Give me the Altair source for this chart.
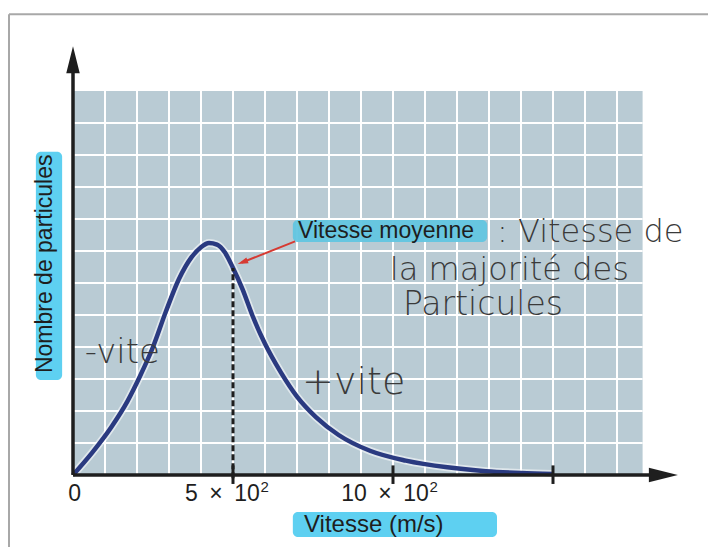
import altair as alt
import pandas as pd

# ---- data ----
speed = [0, 60, 120, 170, 210, 250, 290, 330, 370, 400, 425, 450, 475, 500, 530, 560,
         600, 650, 700, 760, 830, 930, 1040, 1170, 1290, 1400, 1500]
count = [0, 0.7, 1.5, 2.3, 3.1, 4.0, 5.1, 6.1, 6.8, 7.12, 7.25, 7.2, 6.95, 6.47, 5.8, 5.0,
         4.1, 3.2, 2.45, 1.8, 1.25, 0.75, 0.45, 0.24, 0.12, 0.06, 0.03]

tick_values = [0, 500, 1000, 1500]
tick_base = ["0", "5\u2002×\u200210", "10\u2002×\u200210"]
tick_base_x = [5, 584, 1112]
tick_base_align = ["center", "right", "right"]
tick_sup = ["2", "2"]
tick_sup_x = [586, 1114]
mean_speed = 500
mean_count = 6.47

x_title = "Vitesse (m/s)"
y_title = "Nombre de particules"
annot_label = "Vitesse moyenne"
hand_lines = [": Vitesse de", "la majorité des", "Particules"]
hand_x = [1325, 990, 1031]
hand_y = [7.6, 6.4, 5.3]
hand_size = [32, 32, 33]
slow_label, fast_label = "-vite", "+vite"

grid_x_max = 1780
grid_y_max = 12
X_DOM = [0, 1900]
Y_DOM = [0, 13.5]

# ---- helpers ----
xs = alt.Scale(domain=X_DOM, nice=False, zero=False)
ys = alt.Scale(domain=Y_DOM, nice=False, zero=False)


def X(f):
    return alt.X(f, type="quantitative", scale=xs, axis=None)


def Y(f):
    return alt.Y(f, type="quantitative", scale=ys, axis=None)


def df(**kw):
    return pd.DataFrame(kw)


INK = "#1e1e1e"
HAND = "#3a3a3a"
CYAN = "#55cdf0"

# outer scan frame
frame = alt.Chart(df(x=[-200, -200], x2=[2010, -200], y=[14.4, 14.4], y2=[14.4, -2.6])).mark_rule(
    color="#a8a8a8", strokeWidth=2).encode(x=X("x"), x2="x2", y=Y("y"), y2="y2")

# grid background
bg = alt.Chart(df(x=[0], x2=[grid_x_max], y=[0], y2=[grid_y_max])).mark_rect(
    color="#b9cbd4").encode(x=X("x"), x2="x2", y=Y("y"), y2="y2")

vx = list(range(100, 1800, 100))
vlines = alt.Chart(df(x=vx, y=[0] * len(vx), y2=[grid_y_max] * len(vx))).mark_rule(
    color="white", strokeWidth=2).encode(x=X("x"), y=Y("y"), y2="y2")
hy = list(range(1, grid_y_max))
hlines = alt.Chart(df(y=hy, x=[0] * len(hy), x2=[grid_x_max] * len(hy))).mark_rule(
    color="white", strokeWidth=2).encode(y=Y("y"), x=X("x"), x2="x2")

# highlights
hl = alt.Chart(df(x=[687, -116, 687], x2=[1325, -34, 1294],
                  y=[-1.16, 2.97, 7.28], y2=[-1.94, 10.1, 7.97],
                  c=[CYAN, CYAN, "#62c5e0"])).mark_rect(cornerRadius=5, opacity=0.95).encode(
    x=X("x"), x2="x2", y=Y("y"), y2="y2", color=alt.Color("c:N", scale=None))

# curve
cdf = df(v=speed, n=count)
halo = alt.Chart(cdf).mark_line(color="white", strokeWidth=8, opacity=0.55,
                                interpolate="monotone").encode(x=X("v"), y=Y("n"))
curve = alt.Chart(cdf).mark_line(color="#2a3a80", strokeWidth=4.5,
                                 interpolate="monotone").encode(x=X("v"), y=Y("n"))

dashed = alt.Chart(df(x=[mean_speed], y=[-0.1], y2=[mean_count])).mark_rule(
    color=INK, strokeWidth=3, strokeDash=[6, 3]).encode(x=X("x"), y=Y("y"), y2="y2")

# axes
axes = alt.Chart(df(x=[0, 0], x2=[1800, 0], y=[0, 0], y2=[0, 12.56])).mark_rule(
    color=INK, strokeWidth=3.5).encode(x=X("x"), x2="x2", y=Y("y"), y2="y2")
xarrow = alt.Chart(df(x=[1845], y=[0])).mark_point(
    shape="M-1,-0.5L1,0L-1,0.5Z", size=841, filled=True, opacity=1, color=INK).encode(x=X("x"), y=Y("y"))
yarrow = alt.Chart(df(x=[0], y=[12.98])).mark_point(
    shape="M-0.5,1L0,-1L0.5,1Z", size=729, filled=True, opacity=1, color=INK).encode(x=X("x"), y=Y("y"))

tdf = df(t=tick_values[1:], y=[-0.28] * 3, y2=[0.3] * 3)
ticks = alt.Chart(tdf).mark_rule(color=INK, strokeWidth=3).encode(x=X("t"), y=Y("y"), y2="y2")

ldf = df(t=tick_base_x, lab=tick_base, a=tick_base_align, y=[-0.6] * 3)
tl_parts = []
for align in ["center", "right"]:
    tl_parts.append(alt.Chart(ldf[ldf.a == align]).mark_text(
        font="Liberation Sans", fontSize=23, color=INK, baseline="middle", align=align).encode(
        x=X("t"), y=Y("y"), text="lab:N"))
sdf = df(t=tick_sup_x, lab=tick_sup, y=[-0.36] * 2)
tsup = alt.Chart(sdf).mark_text(font="Liberation Sans", fontSize=15, color=INK,
                                baseline="middle", align="left").encode(x=X("t"), y=Y("y"), text="lab:N")

xt = alt.Chart(df(x=[940], y=[-1.56], s=[x_title])).mark_text(
    font="Liberation Sans", fontSize=24, color=INK, baseline="middle").encode(x=X("x"), y=Y("y"), text="s:N")
yt = alt.Chart(df(x=[-87], y=[6.6], s=[y_title])).mark_text(
    font="Liberation Sans", fontSize=23, color=INK, baseline="middle", angle=270).encode(
    x=X("x"), y=Y("y"), text="s:N")

at = alt.Chart(df(x=[703], y=[7.64], s=[annot_label])).mark_text(
    font="Liberation Sans", fontSize=23, color=INK, baseline="middle", align="left").encode(
    x=X("x"), y=Y("y"), text="s:N")

# red arrow
rarrow = alt.Chart(df(x=[694], y=[7.3], x2=[528], y2=[6.64])).mark_rule(
    color="#d63a32", strokeWidth=2).encode(x=X("x"), y=Y("y"), x2="x2", y2="y2")
rhead = alt.Chart(df(x=[530], y=[6.65])).mark_point(
    shape="M0,-1L0.6,1L-0.6,1Z", size=110, filled=True, opacity=1, color="#d63a32", angle=249).encode(
    x=X("x"), y=Y("y"))

hand = alt.Chart(df(x=hand_x, y=hand_y, s=hand_lines, fs=hand_size)).mark_text(
    font="DejaVu Sans", color=HAND, baseline="middle", align="left", fontWeight=300).encode(
    x=X("x"), y=Y("y"), text="s:N", size=alt.Size("fs:Q", scale=None, legend=None))
slow = alt.Chart(df(x=[37, 716], y=[3.81, 2.88], s=[slow_label, fast_label], fs=[34, 38])).mark_text(
    font="DejaVu Sans", color=HAND, baseline="middle", align="left", fontWeight=300).encode(
    x=X("x"), y=Y("y"), text="s:N", size=alt.Size("fs:Q", scale=None, legend=None))

chart = alt.layer(frame, bg, vlines, hlines, hl, halo, curve, dashed, axes, xarrow, yarrow,
                  ticks, *tl_parts, tsup, xt, yt, at, rarrow, rhead, hand, slow).properties(
    width=608, height=432,
    autosize=alt.AutoSizeParams(type="none"),
    padding={"left": 65, "top": 35, "right": 27, "bottom": 72},
    background="white",
).configure_view(stroke=None)

chart.save("out.html", embed_options={"renderer": "svg", "actions": False})
